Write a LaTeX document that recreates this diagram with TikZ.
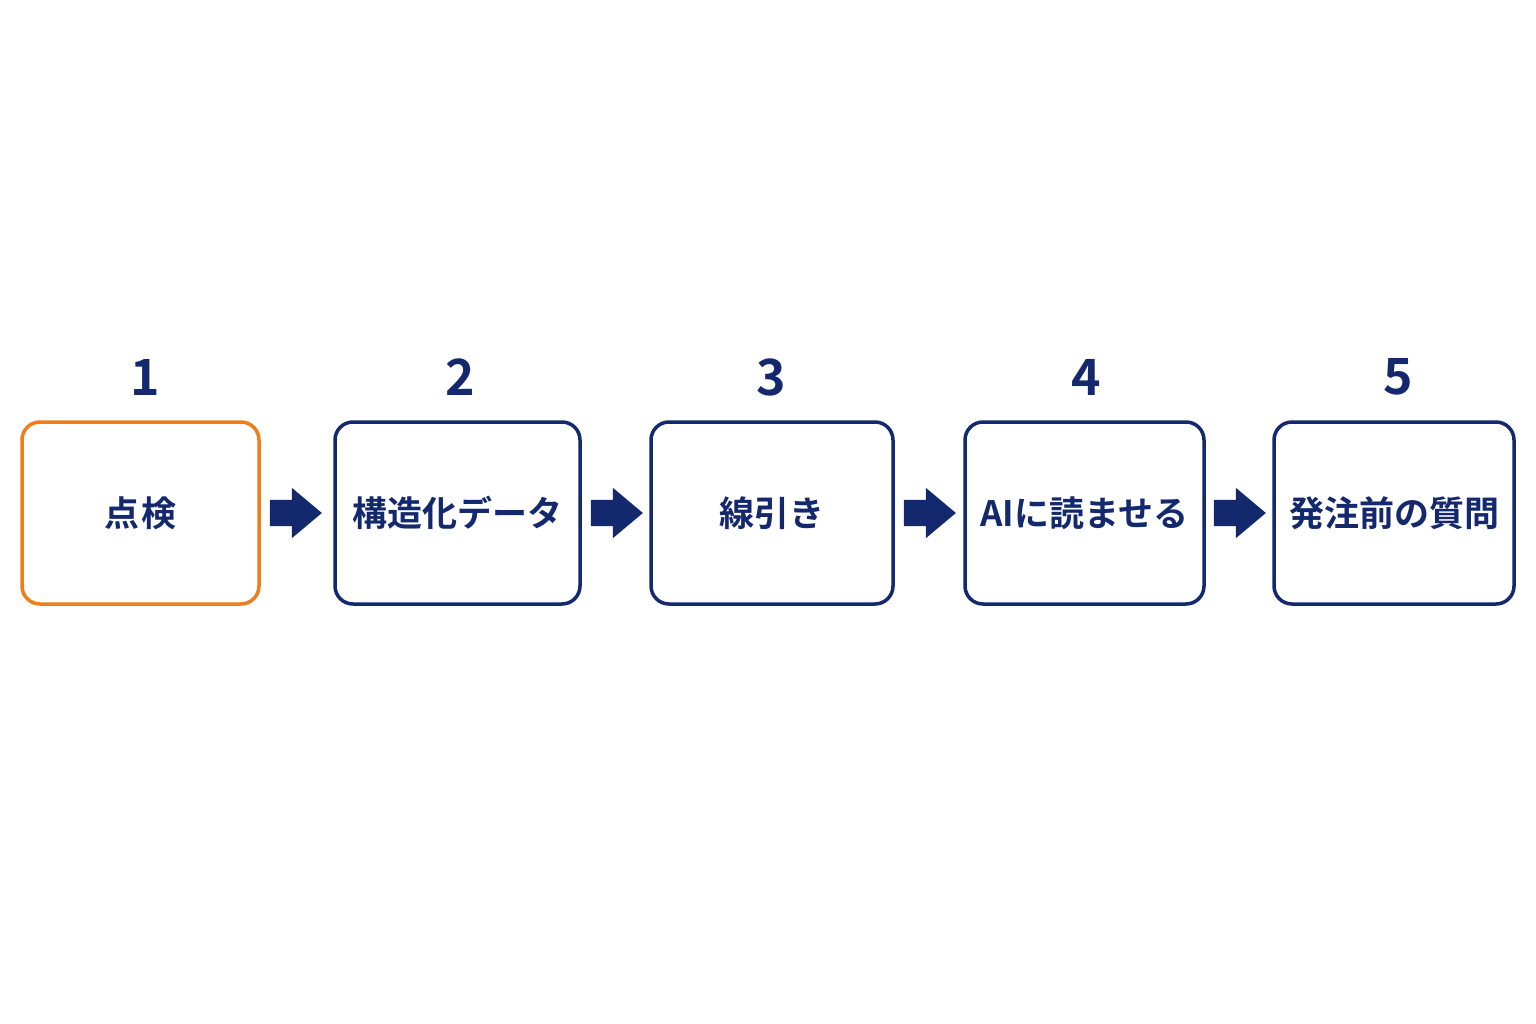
\documentclass[tikz,border=0pt]{standalone}
\usepackage{fontspec}
\setmainfont{Noto Sans CJK JP}[BoldFont={* Bold}]
\usetikzlibrary{shapes.arrows}
\definecolor{navy}{HTML}{14286E}
\definecolor{orng}{HTML}{EE7D1A}
\begin{document}
\begin{tikzpicture}[x=1pt,y=-1pt,
  box/.style={draw=navy,line width=3.5pt,rounded corners=18pt,fill=white,minimum height=182pt,inner sep=0pt,font=\fontsize{35}{40}\selectfont\bfseries,text=navy},
  num/.style={font=\fontsize{50}{56}\selectfont\bfseries,text=navy},
  arr/.style={single arrow,fill=navy,draw=none,minimum height=52pt,inner sep=0pt,single arrow head extend=12pt,single arrow tip angle=80}]
\useasboundingbox[fill=white] (0,0) rectangle (1536,1024);
\node[box,draw=orng,minimum width=237pt] (b1) at (140.5,513) {点\hspace{3pt}検};
\node[box,minimum width=245pt] (b2) at (457.5,513) {構造化データ};
\node[box,minimum width=242pt] (b3) at (772,513) {線引き};
\node[box,minimum width=239pt] (b4) at (1084.5,513) {AIに読ませる};
\node[box,minimum width=240pt] (b5) at (1394,513) {発注前の質問};
\node[num] (n1) at (145,377) {1};
\node[num] (n2) at (460,377) {2};
\node[num] (n3) at (771,377) {3};
\node[num] (n4) at (1086,377) {4};
\node[num] (n5) at (1398,377) {5};
\node[arr] (a1) at (288,513) {\rule{0pt}{26pt}};
\node[arr] (a2) at (609,513) {\rule{0pt}{26pt}};
\node[arr] (a3) at (922,513) {\rule{0pt}{26pt}};
\node[arr] (a4) at (1232,513) {\rule{0pt}{26pt}};
\end{tikzpicture}
\end{document}
